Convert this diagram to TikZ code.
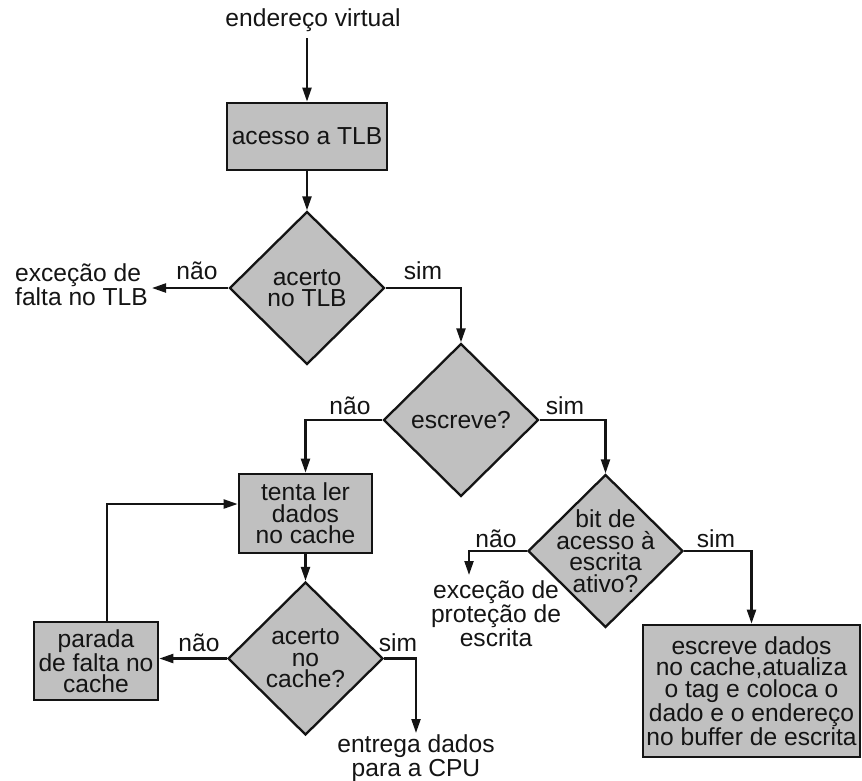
\documentclass[tikz,border=0pt]{standalone}
\usepackage{fontspec}
\setmainfont{Liberation Sans}
\usetikzlibrary{arrows.meta,shapes.geometric}
\definecolor{boxgray}{RGB}{192,192,192}
\definecolor{inkc}{RGB}{20,20,20}
\begin{document}
\begin{tikzpicture}[x=1pt,y=-1pt,
  font=\fontsize{24.6}{21.5}\selectfont,
  every node/.style={inner sep=0pt, text=inkc},
  txt/.style={align=center},
  proc/.style={draw=inkc, fill=boxgray, line width=2.7pt},
  dia/.style={diamond, shape aspect=1, draw=inkc, fill=boxgray, line width=2.3pt,
    minimum width=155pt, minimum height=153pt, inner sep=0pt},
  arr/.style={draw=inkc, line width=2.2pt, -{Triangle[length=14pt,width=9pt]}},
  ln/.style={draw=inkc, line width=2.2pt}]
\useasboundingbox (0,0) rectangle (862,780);

% nodes
\node[txt] (ev) at (313,20) {endereço virtual};
\node[proc, minimum width=160pt, minimum height=67pt] (tlb) at (307,136.5) {acesso a TLB};
\node[dia, label={[txt, name=d1t]center:acerto\\no TLB}] (d1) at (307,288) {};
\node[align=left, anchor=west] (exc1) at (15,285) {exceção de\\falta no TLB};
\node (n1) at (197,271) {não};
\node (s1) at (423,271) {sim};

\node[dia, label={[txt, name=d2t]center:escreve?}] (d2) at (461,420) {};
\node (n2) at (350,406) {não};
\node (s2) at (565,406) {sim};

\node[proc, txt, minimum width=133pt, minimum height=79pt] (tenta) at (305.5,513.5) {tenta ler\\dados\\no cache};
\node[dia, label={[txt, name=d4t]center:acerto\\no\\cache?}] (d4) at (305.5,658.5) {};
\node[proc, txt, minimum width=124pt, minimum height=78pt] (parada) at (96,661) {parada\\de falta no\\cache};
\node (n4) at (199,643) {não};
\node (s4) at (398,643) {sim};
\node[txt] (entrega) at (416,758) {entrega dados\\para a CPU};

\node[dia, label={[txt, name=d3t]center:bit de\\acesso à\\escrita\\ativo?}] (d3) at (605.5,551) {};
\node (n3) at (496,539) {não};
\node (s3) at (716,539) {sim};
\node[txt] (exc2) at (496,614) {exceção de\\proteção de\\escrita};

\node[proc, txt, minimum width=217pt, minimum height=132pt] (big) at (751.5,691) {escreve dados\\no cache,atualiza\\o tag e coloca o\\dado e o endereço\\no buffer de escrita};

% free ends
\coordinate (e1) at (152,288);
\coordinate (e2) at (469,575);
\coordinate (e4) at (416,733);

% connectors
\draw[arr] (tlb.north |- 0,38) -- (tlb.north);
\draw[arr] (tlb.south) -- (d1.north);
\draw[arr] (d1.west) -- (e1);
\draw[arr] (d1.east) -| (d2.north);
\draw[arr] (d2.west) -| (tenta.north);
\draw[arr] (d2.east) -| (d3.north);
\draw[arr] (tenta.south) -- (d4.north);
\draw[arr] (d4.west) -- (d4.west -| parada.east);
\draw[arr] ([xshift=11pt]parada.north) |- ([yshift=9.5pt]tenta.west);
\draw[arr] (d4.east) -| (e4);
\draw[arr] (d3.west) -| (e2);
\draw[arr] (d3.east) -| (big.north);
\end{tikzpicture}
\end{document}
